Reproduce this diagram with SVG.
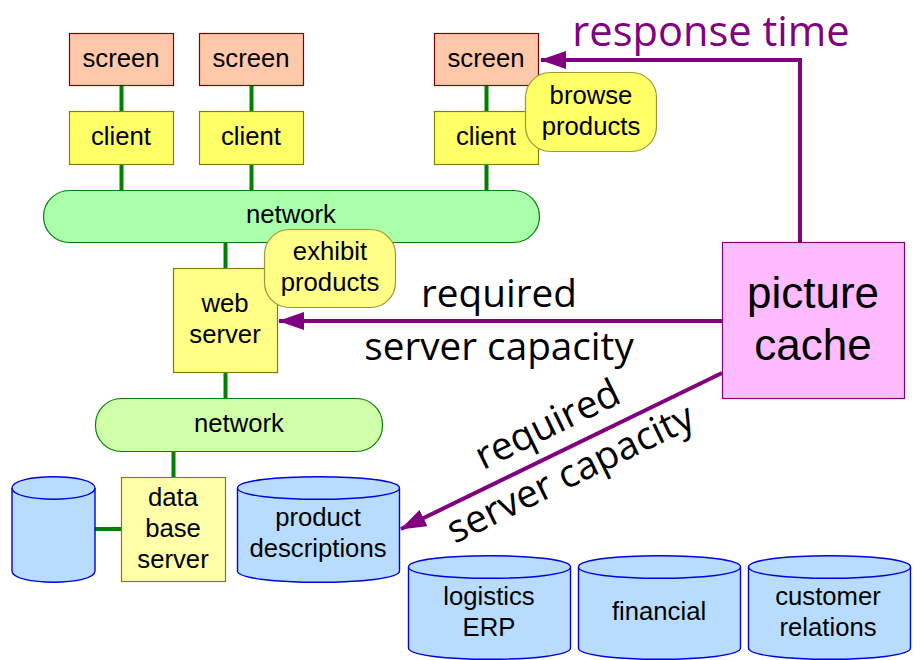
<svg xmlns="http://www.w3.org/2000/svg" width="920" height="660" viewBox="0 0 920 660">
<style>
text{font-family:"Liberation Sans",Arial,sans-serif;font-size:25.700px;fill:#000;text-anchor:middle}
.big{font-family:"Open Sans",sans-serif;font-size:38.700px}
.resp{font-family:"Open Sans",sans-serif;font-size:41.600px;fill:#800080}
text.pc{font-size:44px}
.screen{fill:#ffc8aa;stroke:#800000;stroke-width:1.2}
.client{fill:#ffff66;stroke:#808000;stroke-width:1.2}
.srv{fill:#ffff88;stroke:#808000;stroke-width:1.2}
.db{fill:#ffffaa;stroke:#808000;stroke-width:1.2}
.bubble{stroke:#999933;stroke-width:1.2}
.cyl{fill:#b8dcff;stroke:#0000e0;stroke-width:1.4}
.net1{fill:#aaffaa;stroke:#008000;stroke-width:1.2}
.net2{fill:#d0ffaa;stroke:#008000;stroke-width:1.2}
.g{stroke:#008000;stroke-width:4;fill:none}
.p{stroke:#800080;stroke-width:4;fill:none}
</style>
<defs>
<marker id="ah" markerUnits="userSpaceOnUse" markerWidth="26" markerHeight="18" refX="25" refY="9" orient="auto" viewBox="0 0 26 18"><path d="M0 0V18L26 9Z" fill="#800080"/></marker>
</defs>
<g id="connectors">
<path class="g" d="M121.500 85V113M121.500 164V192M251.500 85V113M251.500 164V192M486.500 85V113M486.500 164V192M225.500 241V270M225.500 372V400M173.500 450V479M95 529H122"/>
</g>
<g id="screen1"><rect class="screen" x="69.500" y="33.500" width="104" height="52"/><text x="121" y="67">screen</text></g>
<g id="screen2"><rect class="screen" x="199.500" y="33.500" width="104" height="52"/><text x="251" y="67">screen</text></g>
<g id="screen3"><rect class="screen" x="434.500" y="33.500" width="104" height="52"/><text x="486" y="67">screen</text></g>
<g id="client1"><rect class="client" x="69.500" y="111.500" width="104" height="53"/><text x="121" y="145">client</text></g>
<g id="client2"><rect class="client" x="199.500" y="111.500" width="104" height="53"/><text x="251" y="145">client</text></g>
<g id="client3"><rect class="client" x="434.500" y="111.500" width="104" height="53"/><text x="486" y="145">client</text></g>
<g id="browse"><rect class="bubble" fill="#ffff66" x="525.500" y="72.500" width="131" height="79" rx="25"/><text x="591" y="104">browse</text><text x="591" y="135">products</text></g>
<g id="network1"><rect class="net1" x="43.500" y="190.500" width="496" height="52" rx="26"/><text x="291" y="223">network</text></g>
<g id="webserver"><rect class="srv" x="173.500" y="268.500" width="104" height="104"/><text x="225" y="312">web</text><text x="225" y="343">server</text></g>
<g id="exhibit"><rect class="bubble" fill="#ffff88" x="264.500" y="229.500" width="131" height="78" rx="25"/><text x="330" y="260">exhibit</text><text x="330" y="291">products</text></g>
<g id="network2"><rect class="net2" x="95.500" y="398.500" width="287" height="53" rx="26"/><text x="239" y="432">network</text></g>
<g id="dbserver"><rect class="db" x="121.500" y="477.500" width="104" height="104"/><text x="173" y="506">data</text><text x="173" y="537">base</text><text x="173" y="568">server</text></g>
<g id="cyl0"><path class="cyl" d="M12 488C12 473 95 473 95 488V571C95 586 12 586 12 571Z"/><path class="cyl" fill="none" d="M12 488C12 503 95 503 95 488"/></g>
<g id="product"><path class="cyl" d="M237.500 488C237.500 473 399.500 473 399.500 488V571C399.500 586 237.500 586 237.500 571Z"/><path class="cyl" d="M237.500 488C237.500 503 399.500 503 399.500 488"/><text x="318" y="526">product</text><text x="318" y="557">descriptions</text></g>
<g id="logistics"><path class="cyl" d="M408.500 567C408.500 552 570.500 552 570.500 567V648C570.500 663 408.500 663 408.500 648Z"/><path class="cyl" d="M408.500 567C408.500 582 570.500 582 570.500 567"/><text x="489" y="605">logistics</text><text x="489" y="636">ERP</text></g>
<g id="financial"><path class="cyl" d="M578.500 567C578.500 552 740.500 552 740.500 567V648C740.500 663 578.500 663 578.500 648Z"/><path class="cyl" d="M578.500 567C578.500 582 740.500 582 740.500 567"/><text x="659" y="620">financial</text></g>
<g id="customer"><path class="cyl" d="M748.500 567C748.500 552 910.500 552 910.500 567V648C910.500 663 748.500 663 748.500 648Z"/><path class="cyl" d="M748.500 567C748.500 582 910.500 582 910.500 567"/><text x="828" y="605">customer</text><text x="828" y="636">relations</text></g>
<g id="cache"><rect fill="#ffbbff" stroke="#800080" stroke-width="1.2" x="722.500" y="242.500" width="182" height="156"/><text class="pc" x="813" y="308">picture</text><text class="pc" x="813" y="360">cache</text></g>
<g id="purple-connectors">
<path class="p" marker-end="url(#ah)" d="M800 243V60H541"/>
<path class="p" marker-end="url(#ah)" d="M722 321H279"/>
<path class="p" marker-end="url(#ah)" d="M722 373L401 529"/>
</g>
<text class="resp" x="711" y="46">response time</text>
<text class="big" x="499" y="307">required</text>
<text class="big" x="499" y="360">server capacity</text>
<text class="big" transform="translate(553 436) rotate(-26)">required</text>
<text class="big" transform="translate(576 485) rotate(-26)">server capacity</text>
</svg>
